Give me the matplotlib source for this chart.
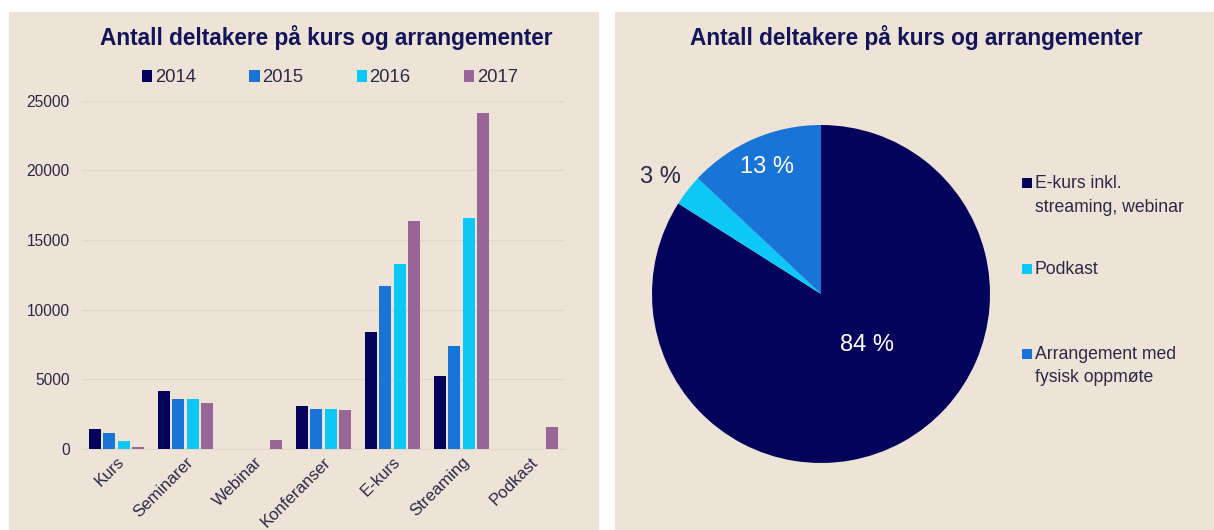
import numpy as np
import matplotlib
matplotlib.use("Agg")
import matplotlib.pyplot as plt
from matplotlib.patches import Rectangle, Patch

plt.rcParams['font.family'] = ['Liberation Sans', 'DejaVu Sans']

# Data
categories = ["Kurs", "Seminarer", "Webinar", "Konferanser", "E-kurs", "Streaming", "Podkast"]
years = ["2014", "2015", "2016", "2017"]
v2014 = [1430, 4130, 0, 3100, 8400, 5250, 0]
v2015 = [1170, 3580, 0, 2870, 11700, 7380, 0]
v2016 = [600, 3580, 0, 2870, 13300, 16570, 0]
v2017 = [120, 3320, 650, 2800, 16330, 24140, 1550]

pie_labels = ["E-kurs inkl.\nstreaming, webinar", "Podkast", "Arrangement med\nfysisk oppmøte"]
pie_values = [84, 3, 13]
pie_texts = ["84 %", "3 %", "13 %"]

# Farger
bg = "#EDE3D6"
navy = "#03035C"
blue = "#1874D6"
cyan = "#0BC8F7"
purple = "#986696"
title_col = "#14145A"
txt_col = "#2A2A48"
bar_colors = [navy, blue, cyan, purple]
pie_colors = [navy, cyan, blue]

W, H = 1214, 530
fig = plt.figure(figsize=(W / 100, H / 100), dpi=100, facecolor="white")

def fx(px):
    return px / W

def fy(py):
    return 1 - py / H

# bakgrunnspaneler
fig.patches.append(Rectangle((fx(9), 0), fx(599) - fx(9), fy(12), transform=fig.transFigure,
                             facecolor=bg, edgecolor="none", zorder=-10))
fig.patches.append(Rectangle((fx(615), 0), 1 - fx(615), fy(12), transform=fig.transFigure,
                             facecolor=bg, edgecolor="none", zorder=-10))

# ---------------- Stolpediagram ----------------
ax = fig.add_axes([fx(82), fy(449), fx(565) - fx(82), fy(100.7) - fy(449)])
ax.set_zorder(1)
ax.set_facecolor("none")
x = np.arange(len(categories))
step = 0.207
width = 0.174
for i, (vals, col) in enumerate(zip([v2014, v2015, v2016, v2017], bar_colors)):
    ax.bar(x + (i - 1.5) * step, vals, width=width, color=col, label=years[i], zorder=3)

ax.set_xlim(-0.5, len(categories) - 0.5)
ax.set_ylim(0, 25000)
ax.set_yticks(np.arange(0, 25001, 5000))
ax.yaxis.grid(True, color="#E2D8CA", linewidth=1)
ax.set_axisbelow(True)
for s in ["top", "right", "left"]:
    ax.spines[s].set_visible(False)
ax.spines["bottom"].set_color("#E2D8CA")
ax.tick_params(axis="both", length=0, labelcolor=txt_col)
ax.tick_params(axis="y", pad=9, labelsize=11.2)
ax.set_xticks(x)
ax.set_xticklabels(categories, rotation=45, ha="right", va="top", rotation_mode="anchor")
ax.tick_params(axis="x", pad=4, labelsize=12.1)

handles = [Patch(facecolor=c, edgecolor="none") for c in bar_colors]
fig.legend(handles, years, loc="center", bbox_to_anchor=(fx(330), fy(78)), ncol=4,
           frameon=False, fontsize=13.3, handlelength=0.55, handleheight=0.55,
           handletextpad=0.15, columnspacing=2.88, labelcolor=txt_col)

fig.text(fx(326), fy(37), "Antall deltakere på kurs og arrangementer", ha="center", va="center",
         fontsize=16.3, fontweight="bold", color=title_col)

# ---------------- Kakediagram ----------------
cx, cy, r = 821, 294, 169
pax = fig.add_axes([fx(cx - r), fy(cy + r), fx(2 * r), (2 * r) / H])
pax.set_zorder(1)
wedges, _ = pax.pie(pie_values, colors=pie_colors, startangle=90, counterclock=False,
                    radius=1, wedgeprops=dict(linewidth=0))
pax.set_xlim(-1, 1)
pax.set_ylim(-1, 1)
pax.set_aspect("auto")
pax.axis("off")

label_pos = [(0.27, -0.30), (-0.95, 0.69), (-0.32, 0.75)]
label_col = ["white", txt_col, "white"]
for t, (lx, ly), c in zip(pie_texts, label_pos, label_col):
    pax.text(lx, ly, t, ha="center", va="center", fontsize=17, color=c)

# forklaring (markør på første linje som i Excel)
leg_x, leg_y0, leg_dy = 1022, 183, 85.5
for i, (lab, col) in enumerate(zip(pie_labels, pie_colors)):
    yy = leg_y0 + i * leg_dy
    fig.patches.append(Rectangle((fx(leg_x), fy(yy + 5)), fx(10), 10 / H, transform=fig.transFigure,
                                 facecolor=col, edgecolor="none", zorder=2))
    fig.text(fx(leg_x + 13), fy(yy - 8), lab, ha="left", va="top", fontsize=12.7,
             color=txt_col, linespacing=1.5)

fig.text(fx(916), fy(37), "Antall deltakere på kurs og arrangementer", ha="center", va="center",
         fontsize=16.3, fontweight="bold", color=title_col)

fig.savefig("out.png", dpi=100, facecolor="white")
